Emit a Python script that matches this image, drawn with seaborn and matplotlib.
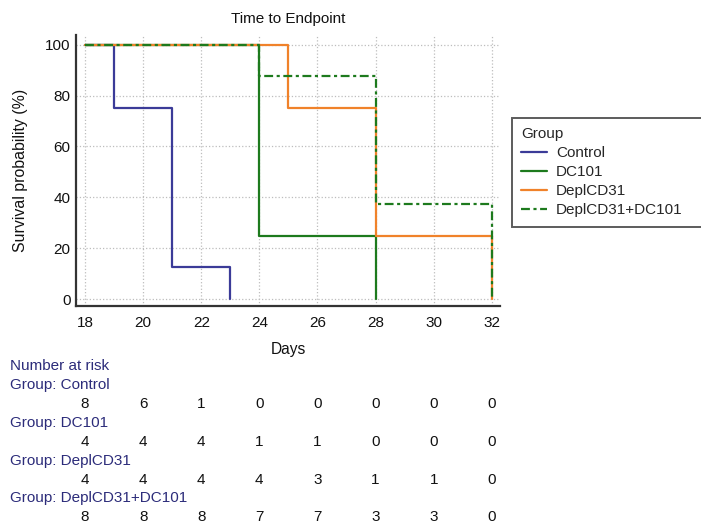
import numpy as np
import pandas as pd
import matplotlib
matplotlib.use("Agg")
import matplotlib.pyplot as plt
import matplotlib.transforms as mtransforms
from matplotlib.ticker import MultipleLocator
import seaborn as sns

# survival step data (event day, survival %)
groups = ["Control", "DC101", "DeplCD31", "DeplCD31+DC101"]
control_days = [18, 19, 21, 23]
control_surv = [100, 75, 12.5, 0]
dc101_days = [18, 24, 28]
dc101_surv = [100, 25, 0]
depl_days = [18, 25, 28, 32]
depl_surv = [100, 75, 25, 0]
combo_days = [18, 24, 28, 32]
combo_surv = [100, 87.5, 37.5, 0]

# number at risk table
risk_days = [18, 20, 22, 24, 26, 28, 30, 32]
risk_control = [8, 6, 1, 0, 0, 0, 0, 0]
risk_dc101 = [4, 4, 4, 1, 1, 0, 0, 0]
risk_depl = [4, 4, 4, 4, 3, 1, 1, 0]
risk_combo = [8, 8, 8, 7, 7, 3, 3, 0]

colors = {"Control": "#3b3b98", "DC101": "#1d7a1d",
          "DeplCD31": "#f0822a", "DeplCD31+DC101": "#1d7a1d"}
dashes = {"Control": "", "DC101": "", "DeplCD31": "",
          "DeplCD31+DC101": (4, 1.6, 1.4, 1.6)}

sns.set_style("white")
plt.rcParams['font.family'] = ['Liberation Sans', 'DejaVu Sans']

frames = []
for g, d, s in zip(groups, [control_days, dc101_days, depl_days, combo_days],
                   [control_surv, dc101_surv, depl_surv, combo_surv]):
    frames.append(pd.DataFrame({"Days": d, "Survival": s, "Group": g}))
df = pd.concat(frames, ignore_index=True)

fig = plt.figure(figsize=(7.01, 5.24), dpi=100)
ax = fig.add_axes([76 / 701, 1 - 306 / 524, 424 / 701, 271 / 524])

sns.lineplot(data=df, x="Days", y="Survival", hue="Group", style="Group",
             hue_order=groups, style_order=groups, palette=colors, dashes=dashes,
             estimator=None, drawstyle="steps-post", linewidth=1.6,
             legend=False, ax=ax)

ax.set_xlim(17.69, 32.28)
ax.set_ylim(-2.7, 103.8)
ax.xaxis.set_major_locator(MultipleLocator(2))
ax.xaxis.set_minor_locator(MultipleLocator(1))
ax.yaxis.set_major_locator(MultipleLocator(20))
ax.yaxis.set_minor_locator(MultipleLocator(10))
ax.grid(True, which="major", linestyle=":", color="#bdbdbd", linewidth=0.9)
for sp in ["top", "right"]:
    ax.spines[sp].set_visible(False)
for sp in ["left", "bottom"]:
    ax.spines[sp].set_linewidth(1.6)
    ax.spines[sp].set_color("#333333")
ax.tick_params(which="major", direction="in", length=5, width=1.3,
               color="#333333", labelsize=11, labelcolor="#111111")
ax.tick_params(which="minor", direction="in", length=3, width=1.0, color="#333333")
ax.tick_params(axis="x", which="major", pad=7)
ax.tick_params(axis="y", which="major", pad=4)

ax.set_title("Time to Endpoint", fontsize=11, pad=9, color="#111111")
ax.set_xlabel("Days", fontsize=11.2, labelpad=9, color="#111111")
ax.set_ylabel("Survival probability (%)", fontsize=11.4, labelpad=12, color="#111111")

# legend box runs off the right edge, as in the original
handles = ax.get_lines()[:len(groups)]
leg = fig.legend(handles, groups, title="Group", loc="upper left",
                 bbox_to_anchor=(512 / 701, 1 - 224 / 524, 215 / 701, 106 / 524),
                 mode="expand", fontsize=11, title_fontsize=11,
                 frameon=True, fancybox=False,
                 handlelength=1.65, handletextpad=0.6, labelspacing=0.32,
                 borderpad=0.62, borderaxespad=0)
leg._legend_box.align = "left"
leg.get_frame().set_edgecolor("#333333")
leg.get_frame().set_linewidth(1.4)

# number at risk table below the plot
navy = "#2c2c7a"
trans = mtransforms.blended_transform_factory(ax.transData, fig.transFigure)
fig.text(10 / 701, 1 - 366 / 524, "Number at risk", fontsize=11, color=navy, va="center")
rows = [risk_control, risk_dc101, risk_depl, risk_combo]
label_y = [385, 423, 461, 498]
for g, vals, ly in zip(groups, rows, label_y):
    fig.text(10 / 701, 1 - ly / 524, f"Group: {g}", fontsize=11, color=navy, va="center")
    for d, v in zip(risk_days, vals):
        ax.text(d, 1 - (ly + 19) / 524, str(v), transform=trans, ha="center",
                va="center", fontsize=11, color="#111111")

fig.savefig("out.png", dpi=100, facecolor="white")
